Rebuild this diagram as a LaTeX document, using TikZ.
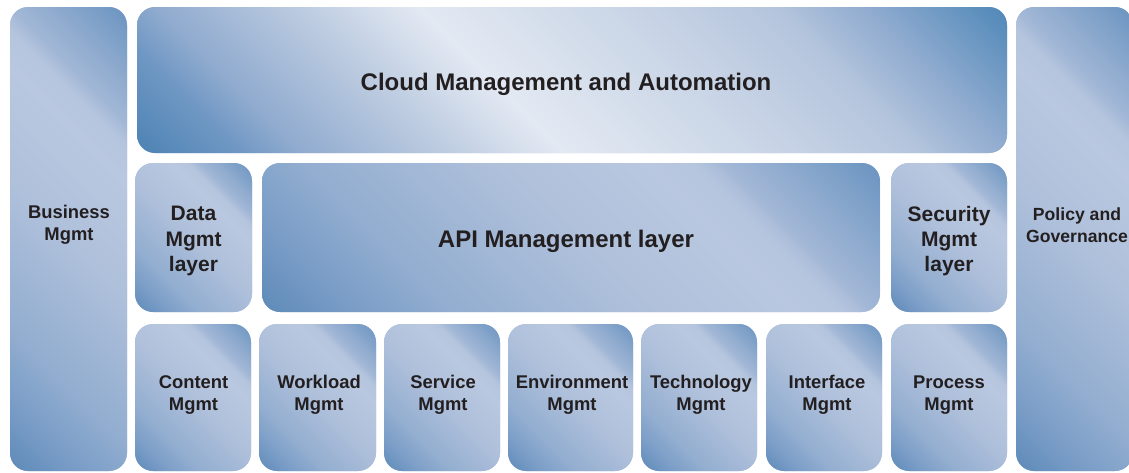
\documentclass[tikz,border=0pt]{standalone}
\usepackage{fontspec}
\setmainfont{Liberation Sans}
\usetikzlibrary{calc}
\definecolor{txt}{HTML}{231F20}
\definecolor{k0}{HTML}{5E8AB8}
\definecolor{k1}{HTML}{7A9DC7}
\definecolor{k2}{HTML}{93AED0}
\definecolor{k3}{HTML}{AFC0DB}
\definecolor{k4}{HTML}{B9C8E0}
\definecolor{k5}{HTML}{B5C5DE}
\definecolor{k6}{HTML}{A2B7D6}
\definecolor{k7}{HTML}{87A6CB}
\definecolor{k8}{HTML}{6A94C1}
\definecolor{q0}{HTML}{4D83B5}
\definecolor{q1}{HTML}{6F97C3}
\definecolor{q2}{HTML}{90ABCF}
\definecolor{q3}{HTML}{BCCBE0}
\definecolor{q4}{HTML}{E3E9F3}
\definecolor{q5}{HTML}{D2DCEA}
\definecolor{q6}{HTML}{C6D2E5}
\definecolor{q7}{HTML}{B5C5DD}
\definecolor{q8}{HTML}{8FABCF}
\definecolor{q9}{HTML}{5088B8}
% 45-degree shading whose ends sit on the lower-left and upper-right corners of a w x h box
% (the box is painted through a square of side max(w,h); pgf puts that square's corners at 50bp -/+ 35.355bp)
\newcommand\mkshade[4]{%
  \pgfmathsetmacro\rr{(#2+#3)/(2*max(#2,#3))}%
  \gdef\stoplist{}%
  \foreach \sT/\sCl [count=\si] in {#4}{%
    \pgfmathsetmacro\mypos{50+35.355*\rr*(2*\sT-1)}%
    \ifnum\si=1
      \xdef\stoplist{color(0bp)=(\sCl); color(\mypos bp)=(\sCl)}%
    \else
      \xdef\stoplist{\stoplist; color(\mypos bp)=(\sCl)}%
    \fi
    \xdef\lastcol{\sCl}%
  }%
  \edef\tmpshade{\noexpand\pgfdeclarehorizontalshading{#1}{100bp}{\stoplist; color(100bp)=(\lastcol)}}%
  \tmpshade}
\def\tilestops{0/k0,0.12/k1,0.25/k2,0.5/k3,0.7/k4,0.76/k5,0.8/k6,0.9/k7,1/k8}
\def\cloudstops{0/q0,0.1/q1,0.16/q2,0.3/q3,0.42/q4,0.55/q5,0.65/q6,0.77/q7,0.865/q8,1/q9}
\edef\tmpa{\noexpand\mkshade{shSide}{117}{464}{\tilestops}}\tmpa
\edef\tmpa{\noexpand\mkshade{shCloud}{870}{146}{\cloudstops}}\tmpa
\edef\tmpa{\noexpand\mkshade{shMid}{117}{149}{\tilestops}}\tmpa
\edef\tmpa{\noexpand\mkshade{shApi}{618}{149}{\tilestops}}\tmpa
\edef\tmpa{\noexpand\mkshade{shLow}{116}{147}{\tilestops}}\tmpa
\edef\tmpa{\noexpand\mkshade{shEnv}{125}{147}{\tilestops}}\tmpa
\tikzset{
  box/.style={inner sep=0pt, outer sep=0pt, fill=k4, rounded corners=13.5pt,
    path picture={
      \shade[sharp corners, shading=#1, shading angle=45]
        let \p1=(path picture bounding box.south west),
            \p2=(path picture bounding box.north east),
            \n1={max(\x2-\x1,\y2-\y1)/2},
            \n2={(\x1+\x2)/2},
            \n3={(\y1+\y2)/2}
        in ({(\n2-\n1)*1pt},{(\n3-\n1)*1pt}) rectangle ({(\n2+\n1)*1pt},{(\n3+\n1)*1pt});
    }},
  sz/.style 2 args={minimum width=#1*0.75pt, minimum height=#2*0.75pt},
  lbl/.style={text=txt, align=center, inner sep=0pt, font=\bfseries\fontsize{13.8}{16.5}\selectfont},
  lblmid/.style={lbl, font=\bfseries\fontsize{15.75}{19}\selectfont},
  lblbig/.style={lbl, font=\bfseries\fontsize{18}{21}\selectfont},
  lblside/.style={lbl, font=\bfseries\fontsize{13.2}{16.5}\selectfont}
}
\begin{document}
\begin{tikzpicture}[x=0.75pt,y=-0.75pt]
\useasboundingbox (0,0) rectangle (1129,472);
\clip (0,0) rectangle (1129,472);
% boxes
\node[box=shSide, sz={117}{464}] (business) at (68.5,239) {};
\node[box=shCloud, sz={870}{146}] (cloud) at (572,80) {};
\node[box=shMid, sz={117}{149}] (data) at (193.5,237.5) {};
\node[box=shApi, sz={618}{149}] (api) at (571,237.5) {};
\node[box=shMid, sz={116}{149}] (security) at (949,237.5) {};
\node[box=shSide, sz={117}{464}] (policy) at (1074.5,239) {};
\node[box=shLow, sz={116}{147}] (content) at (193,397.5) {};
\node[box=shLow, sz={117}{147}] (workload) at (317.5,397.5) {};
\node[box=shLow, sz={116}{147}] (service) at (442,397.5) {};
\node[box=shEnv, sz={125}{147}] (environment) at (570.5,397.5) {};
\node[box=shLow, sz={116}{147}] (technology) at (699,397.5) {};
\node[box=shLow, sz={116}{147}] (interface) at (824,397.5) {};
\node[box=shLow, sz={116}{147}] (process) at (949,397.5) {};
% labels
\node[lblbig] (tcloud) at (566,84) {Cloud Management and Automation};
\node[lblbig] (tapi) at (566,241) {API Management layer};
\node[lblmid] (tdata) at (193.5,241) {Data\\Mgmt\\layer};
\node[lblmid] (tsecurity) at (949,241) {Security\\Mgmt\\layer};
\node[lbl] (tbusiness) at (69,225) {Business\\Mgmt};
\node[lblside] (tpolicy) at (1077,225) {Policy and\\Governance};
\node[lbl] (tcontent) at (193.5,395) {Content\\Mgmt};
\node[lbl] (tworkload) at (319,395) {Workload\\Mgmt};
\node[lbl] (tservice) at (443,395) {Service\\Mgmt};
\node[lbl] (tenvironment) at (572,395) {Environment\\Mgmt};
\node[lbl] (ttechnology) at (701,395) {Technology\\Mgmt};
\node[lbl] (tinterface) at (827,395) {Interface\\Mgmt};
\node[lbl] (tprocess) at (949,395) {Process\\Mgmt};
\end{tikzpicture}
\end{document}
